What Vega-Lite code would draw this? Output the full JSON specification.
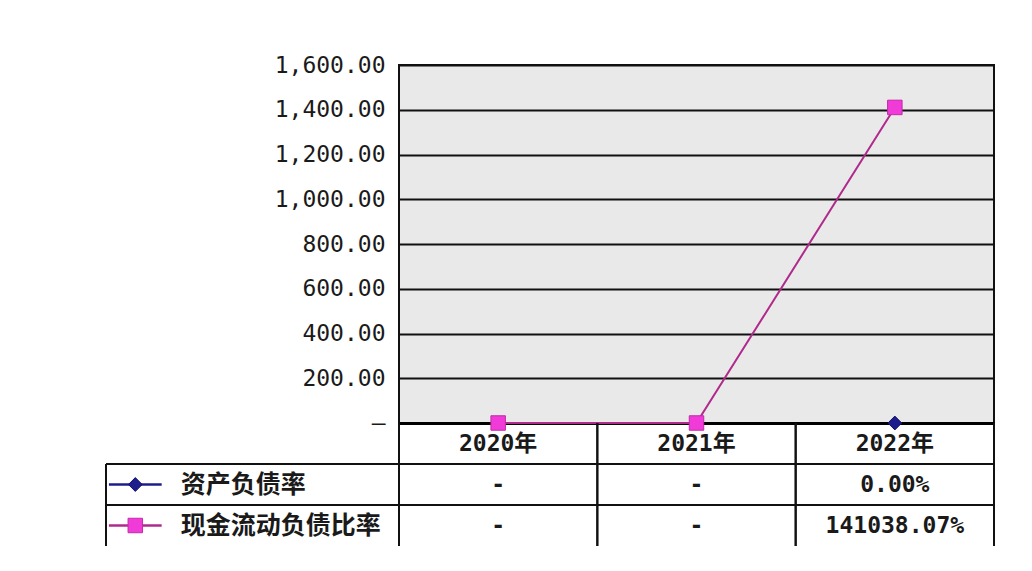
{
  "$schema": "https://vega.github.io/schema/vega-lite/v6.json",
  "background": "white",
  "padding": {"left": 105, "top": 53, "right": 30, "bottom": 20},
  "autosize": {"type": "pad"},
  "columns": 2,
  "spacing": 0,
  "bounds": "flush",
  "datasets": {
    "plot": [
      {"year": "2020年", "series": "现金流动负债比率", "value": 0},
      {"year": "2021年", "series": "现金流动负债比率", "value": 0},
      {"year": "2022年", "series": "现金流动负债比率", "value": 1410.3807},
      {"year": "2022年", "series": "资产负债率", "value": 0}
    ],
    "table": [
      {"year": "2020年", "pos": 2.5, "text": "2020年"},
      {"year": "2021年", "pos": 2.5, "text": "2021年"},
      {"year": "2022年", "pos": 2.5, "text": "2022年"},
      {"year": "2020年", "pos": 1.5, "text": "-"},
      {"year": "2021年", "pos": 1.5, "text": "-"},
      {"year": "2022年", "pos": 1.5, "text": "0.00%"},
      {"year": "2020年", "pos": 0.5, "text": "-"},
      {"year": "2021年", "pos": 0.5, "text": "-"},
      {"year": "2022年", "pos": 0.5, "text": "141038.07%"}
    ],
    "legend": [
      {"series": "资产负债率", "pos": 1.5},
      {"series": "现金流动负债比率", "pos": 0.5}
    ],
    "years": [{"year": "2020年"}, {"year": "2021年"}, {"year": "2022年"}],
    "hlines": [{"pos": 1}, {"pos": 2}]
  },
  "concat": [
    {
      "width": 293,
      "height": 358,
      "data": {"values": [{"t": ""}]},
      "mark": {"type": "text"},
      "encoding": {"text": {"field": "t"}}
    },
    {
      "width": 595,
      "height": 358,
      "data": {"name": "plot"},
      "view": {"fill": "#e9e9e9", "stroke": "#111111", "strokeWidth": 2},
      "encoding": {
        "x": {
          "field": "year", "type": "nominal",
          "scale": {"type": "point", "padding": 0.5, "domain": ["2020年", "2021年", "2022年"]},
          "axis": {"title": null, "labels": false, "ticks": false, "grid": false, "domain": true, "domainColor": "#000000", "domainWidth": 3}
        },
        "y": {
          "field": "value", "type": "quantitative",
          "scale": {"domain": [0, 1600], "nice": false},
          "axis": {
            "title": null,
            "values": [0, 200, 400, 600, 800, 1000, 1200, 1400, 1600],
            "labelExpr": "datum.value == 0 ? '–' : format(datum.value, ',.2f')",
            "ticks": false, "domain": false,
            "grid": true, "gridColor": "#111111", "gridWidth": 2,
            "labelPadding": 14
          }
        }
      },
      "layer": [
        {
          "mark": {"type": "line", "strokeWidth": 2},
          "encoding": {
            "color": {"field": "series", "type": "nominal", "scale": {"domain": ["资产负债率", "现金流动负债比率"], "range": ["#1c1c8c", "#b02a8c"]}, "legend": null}
          }
        },
        {
          "mark": {"type": "point", "filled": true, "opacity": 1, "strokeWidth": 1, "strokeOpacity": 1},
          "encoding": {
            "fill": {"field": "series", "type": "nominal", "scale": {"domain": ["资产负债率", "现金流动负债比率"], "range": ["#1d1d8e", "#f03bd8"]}, "legend": null},
            "stroke": {"field": "series", "type": "nominal", "scale": {"domain": ["资产负债率", "现金流动负债比率"], "range": ["#121260", "#c42aa8"]}, "legend": null},
            "shape": {"field": "series", "type": "nominal", "scale": {"domain": ["资产负债率", "现金流动负债比率"], "range": ["diamond", "square"]}, "legend": null},
            "size": {"field": "series", "type": "nominal", "scale": {"domain": ["资产负债率", "现金流动负债比率"], "range": [190, 210]}, "legend": null}
          }
        }
      ]
    },
    {
      "width": 293,
      "height": 123,
      "layer": [
        {
          "data": {"name": "hlines"},
          "mark": {"type": "rule", "color": "#111111", "strokeWidth": 2},
          "encoding": {
            "y": {"field": "pos", "type": "quantitative", "scale": {"domain": [0, 3], "nice": false}, "axis": null}
          }
        },
        {
          "data": {"values": [{"b": 0}]},
          "mark": {"type": "rule", "color": "#111111", "strokeWidth": 2},
          "encoding": {
            "x": {"datum": 0, "type": "quantitative", "scale": {"domain": [0, 1], "nice": false}, "axis": null},
            "y": {"datum": 0, "type": "quantitative"},
            "y2": {"datum": 2}
          }
        },
        {
          "data": {"name": "legend"},
          "mark": {"type": "rule", "strokeWidth": 2.5},
          "encoding": {
            "x": {"datum": 0.01, "type": "quantitative"},
            "x2": {"datum": 0.19},
            "y": {"field": "pos", "type": "quantitative"},
            "color": {"field": "series", "type": "nominal", "scale": {"domain": ["资产负债率", "现金流动负债比率"], "range": ["#1c1c6c", "#a02a80"]}, "legend": null}
          }
        },
        {
          "data": {"name": "legend"},
          "mark": {"type": "point", "filled": true, "opacity": 1, "strokeWidth": 1},
          "encoding": {
            "x": {"datum": 0.1, "type": "quantitative"},
            "y": {"field": "pos", "type": "quantitative"},
            "fill": {"field": "series", "type": "nominal", "scale": {"domain": ["资产负债率", "现金流动负债比率"], "range": ["#1d1d8e", "#f03bd8"]}, "legend": null},
            "stroke": {"field": "series", "type": "nominal", "scale": {"domain": ["资产负债率", "现金流动负债比率"], "range": ["#121260", "#c42aa8"]}, "legend": null},
            "shape": {"field": "series", "type": "nominal", "scale": {"domain": ["资产负债率", "现金流动负债比率"], "range": ["diamond", "square"]}, "legend": null},
            "size": {"field": "series", "type": "nominal", "scale": {"domain": ["资产负债率", "现金流动负债比率"], "range": [170, 210]}, "legend": null}
          }
        },
        {
          "data": {"name": "legend"},
          "mark": {"type": "text", "align": "left", "baseline": "middle", "font": "Noto Sans CJK SC", "fontSize": 25, "fontWeight": "bold", "color": "#1a1a1a"},
          "encoding": {
            "x": {"datum": 0.255, "type": "quantitative"},
            "y": {"field": "pos", "type": "quantitative"},
            "text": {"field": "series"}
          }
        }
      ]
    },
    {
      "width": 595,
      "height": 123,
      "layer": [
        {
          "data": {"name": "years"},
          "mark": {"type": "rule", "color": "#111111", "strokeWidth": 2},
          "encoding": {
            "x": {"field": "year", "type": "nominal", "bandPosition": 0, "scale": {"type": "band", "paddingInner": 0, "paddingOuter": 0, "domain": ["2020年", "2021年", "2022年"]}, "axis": null}
          }
        },
        {
          "data": {"name": "years"},
          "mark": {"type": "rule", "color": "#111111", "strokeWidth": 2},
          "encoding": {
            "x": {"field": "year", "type": "nominal", "bandPosition": 1}
          }
        },
        {
          "data": {"name": "hlines"},
          "mark": {"type": "rule", "color": "#111111", "strokeWidth": 2},
          "encoding": {
            "y": {"field": "pos", "type": "quantitative", "scale": {"domain": [0, 3], "nice": false}, "axis": null}
          }
        },
        {
          "data": {"name": "table"},
          "mark": {"type": "text", "align": "center", "baseline": "middle", "font": "DejaVu Sans Mono, Noto Sans CJK SC", "fontSize": 23, "fontWeight": "bold", "color": "#1a1a1a"},
          "encoding": {
            "x": {"field": "year", "type": "nominal", "bandPosition": 0.5},
            "y": {"field": "pos", "type": "quantitative"},
            "text": {"field": "text"}
          }
        }
      ]
    }
  ],
  "config": {
    "view": {"stroke": null},
    "axis": {"labelFont": "DejaVu Sans Mono", "labelFontSize": 23, "labelFontWeight": "normal", "labelColor": "#1a1a1a"}
  }
}
